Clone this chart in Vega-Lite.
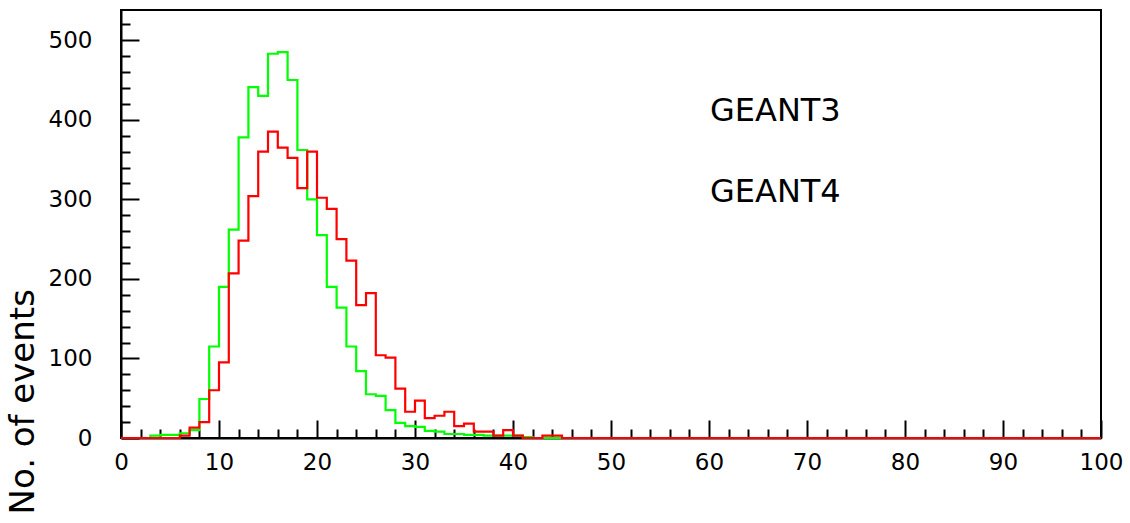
{
  "$schema": "https://vega.github.io/schema/vega-lite/v6.json",
  "width": 980,
  "height": 428,
  "autosize": {"type": "none"},
  "padding": {"left": 121, "top": 10, "right": 29, "bottom": 85},
  "background": "white",
  "config": {
    "view": {"stroke": "black", "strokeWidth": 2},
    "axis": {
      "grid": false,
      "domainColor": "black",
      "domainWidth": 2,
      "tickColor": "black",
      "tickWidth": 2,
      "labelFont": "DejaVu Sans",
      "labelFontSize": 23,
      "labelColor": "black",
      "titleFont": "DejaVu Sans",
      "titleColor": "black",
      "titleFontWeight": "normal"
    }
  },
  "datasets": {
    "hist": [
      {"x": 0, "g3": 0, "g4": 0}, {"x": 1, "g3": 0, "g4": 0}, {"x": 2, "g3": 0, "g4": 0},
      {"x": 3, "g3": 3, "g4": 0}, {"x": 4, "g3": 4, "g4": 0}, {"x": 5, "g3": 4, "g4": 0},
      {"x": 6, "g3": 6, "g4": 3}, {"x": 7, "g3": 10, "g4": 13}, {"x": 8, "g3": 49, "g4": 20},
      {"x": 9, "g3": 115, "g4": 60}, {"x": 10, "g3": 190, "g4": 95}, {"x": 11, "g3": 262, "g4": 207},
      {"x": 12, "g3": 378, "g4": 248}, {"x": 13, "g3": 441, "g4": 304}, {"x": 14, "g3": 430, "g4": 360},
      {"x": 15, "g3": 483, "g4": 385}, {"x": 16, "g3": 485, "g4": 365}, {"x": 17, "g3": 450, "g4": 352},
      {"x": 18, "g3": 362, "g4": 314}, {"x": 19, "g3": 300, "g4": 360}, {"x": 20, "g3": 255, "g4": 302},
      {"x": 21, "g3": 190, "g4": 288}, {"x": 22, "g3": 164, "g4": 250}, {"x": 23, "g3": 115, "g4": 223},
      {"x": 24, "g3": 84, "g4": 167}, {"x": 25, "g3": 55, "g4": 182}, {"x": 26, "g3": 53, "g4": 104},
      {"x": 27, "g3": 35, "g4": 101}, {"x": 28, "g3": 19, "g4": 62}, {"x": 29, "g3": 15, "g4": 33},
      {"x": 30, "g3": 14, "g4": 47}, {"x": 31, "g3": 9, "g4": 25}, {"x": 32, "g3": 8, "g4": 28},
      {"x": 33, "g3": 5, "g4": 33}, {"x": 34, "g3": 5, "g4": 15}, {"x": 35, "g3": 4, "g4": 18},
      {"x": 36, "g3": 4, "g4": 8}, {"x": 37, "g3": 3, "g4": 8}, {"x": 38, "g3": 3, "g4": 3},
      {"x": 39, "g3": 3, "g4": 10}, {"x": 40, "g3": 3, "g4": 3}, {"x": 41, "g3": 1, "g4": 0},
      {"x": 42, "g3": 0, "g4": 0}, {"x": 43, "g3": 0, "g4": 3}, {"x": 44, "g3": 0, "g4": 3},
      {"x": 45, "g3": 0, "g4": 0}, {"x": 100, "g3": 0, "g4": 0}
    ],
    "labels": [
      {"label": "GEANT3", "x": 60.1, "y": 399},
      {"label": "GEANT4", "x": 60.1, "y": 297}
    ]
  },
  "layer": [
    {
      "data": {"name": "hist"},
      "mark": {"type": "line", "interpolate": "step-after", "color": "#00ff00", "strokeWidth": 2.2},
      "encoding": {
        "x": {
          "field": "x", "type": "quantitative",
          "scale": {"domain": [0, 100], "nice": false, "zero": false},
          "axis": {
            "title": null,
            "format": "d",
            "values": [0,2,4,6,8,10,12,14,16,18,20,22,24,26,28,30,32,34,36,38,40,42,44,46,48,50,52,54,56,58,60,62,64,66,68,70,72,74,76,78,80,82,84,86,88,90,92,94,96,98,100],
            "tickCount": 500,
            "labelExpr": "datum.value % 10 === 0 ? datum.label : ''",
            "tickSize": {"condition": {"test": "datum.value % 10 === 0", "value": -18}, "value": -9},
            "labelPadding": 31,
            "labelFlush": false,
            "labelOverlap": false
          }
        },
        "y": {
          "field": "g3", "type": "quantitative",
          "scale": {"domain": [0, 538], "nice": false},
          "axis": {
            "title": "No. of events",
            "titleFontSize": 34,
            "titleAngle": -90,
            "titleAlign": "left",
            "titleBaseline": "alphabetic",
            "titleX": -88,
            "titleY": 504,
            "format": "d",
            "values": [0,20,40,60,80,100,120,140,160,180,200,220,240,260,280,300,320,340,360,380,400,420,440,460,480,500,520],
            "tickCount": 500,
            "labelExpr": "datum.value % 100 === 0 ? datum.label : ''",
            "tickSize": {"condition": {"test": "datum.value % 100 === 0", "value": -18}, "value": -9},
            "labelPadding": 47,
            "labelFlush": false,
            "labelOverlap": false
          }
        }
      }
    },
    {
      "data": {"name": "hist"},
      "mark": {"type": "line", "interpolate": "step-after", "color": "#ff0000", "strokeWidth": 2.2},
      "encoding": {
        "x": {"field": "x", "type": "quantitative"},
        "y": {"field": "g4", "type": "quantitative"}
      }
    },
    {
      "data": {"name": "labels"},
      "mark": {"type": "text", "align": "left", "baseline": "alphabetic", "font": "DejaVu Sans", "fontSize": 32, "color": "black"},
      "encoding": {
        "x": {"field": "x", "type": "quantitative"},
        "y": {"field": "y", "type": "quantitative"},
        "text": {"field": "label"}
      }
    }
  ]
}
